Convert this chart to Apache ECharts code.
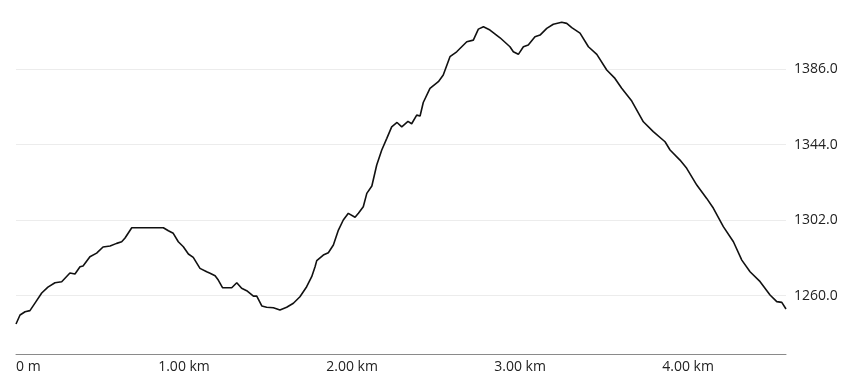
<!DOCTYPE html>
<html>
<head>
<meta charset="utf-8">
<script src="https://cdn.jsdelivr.net/npm/echarts@6/dist/echarts.min.js"></script>
<style>html,body{margin:0;padding:0;background:#fff}#c{width:841px;height:376px}</style>
</head>
<body>
<div id="c"></div>
<script>
// distance along route (km)
const distanceKm = [0,0.024,0.054,0.083,0.113,0.153,0.190,0.232,0.272,0.321,0.351,0.381,0.399,0.440,0.480,0.518,0.560,0.599,0.629,0.649,0.689,0.877,0.907,0.936,0.966,0.996,1.026,1.055,1.095,1.135,1.155,1.185,1.204,1.230,1.284,1.314,1.343,1.373,1.413,1.433,1.463,1.492,1.532,1.571,1.611,1.651,1.690,1.730,1.760,1.780,1.790,1.829,1.859,1.889,1.919,1.948,1.978,2.018,2.038,2.067,2.088,2.118,2.147,2.177,2.207,2.236,2.268,2.296,2.333,2.355,2.385,2.405,2.424,2.464,2.514,2.543,2.583,2.623,2.683,2.722,2.752,2.782,2.821,2.881,2.940,2.960,2.990,3.020,3.049,3.089,3.119,3.159,3.198,3.248,3.278,3.308,3.357,3.407,3.457,3.516,3.565,3.605,3.665,3.734,3.793,3.863,3.893,3.952,3.992,4.052,4.111,4.151,4.210,4.270,4.320,4.369,4.429,4.488,4.528,4.558,4.583];
// elevation (m)
const elevation = [1244.3,1249.3,1251.1,1251.7,1255.9,1261.5,1264.8,1267.2,1267.8,1272.6,1272.1,1276.1,1276.5,1281.7,1283.7,1287.1,1287.6,1289.1,1290.0,1292.1,1297.8,1297.8,1296.1,1294.7,1290.0,1287.2,1283.2,1281.3,1275.2,1273.3,1272.5,1271.1,1268.7,1264.4,1264.4,1267.2,1264.1,1262.8,1259.8,1259.8,1254.3,1253.6,1253.3,1252.1,1253.6,1255.8,1259.4,1265.0,1270.6,1276.1,1279.5,1282.6,1283.9,1288.2,1296.5,1302.1,1305.8,1303.6,1305.8,1309.5,1316.9,1321.0,1332.7,1341.0,1347.5,1353.9,1356.3,1353.9,1356.9,1355.6,1360.4,1359.9,1367.4,1375.3,1379.0,1382.7,1392.9,1395.6,1401.2,1402.1,1408.2,1409.5,1407.7,1403.4,1398.4,1395.6,1394.2,1398.4,1399.4,1404.0,1404.9,1408.6,1410.9,1412.0,1411.4,1409.0,1406.0,1398.4,1394.2,1385.5,1380.8,1375.3,1368.2,1356.7,1351.2,1345.6,1341.0,1335.4,1330.8,1321.5,1314.1,1308.6,1298.4,1290.0,1279.8,1273.3,1267.8,1260.4,1256.7,1256.3,1252.6];
const yTicks = [1260, 1302, 1344, 1386];
const xTicks = [0, 1, 2, 3, 4];

const chart = echarts.init(document.getElementById('c'), null, {renderer: 'canvas'});
chart.setOption({
  animation: false,
  grid: {left: 16, right: 55, top: 0, bottom: 22, containLabel: false},
  xAxis: {
    type: 'value', min: 0, max: 4.583,
    axisLine: {show: true, lineStyle: {color: '#8a8a8a', width: 1}},
    axisTick: {show: false, customValues: xTicks},
    splitLine: {show: false},
    axisLabel: {
      customValues: xTicks,
      margin: 6, fontFamily: 'Open Sans', fontSize: 14, color: '#222',
      alignMinLabel: 'left',
      formatter: v => v === 0 ? '0 m' : v.toFixed(2) + ' km'
    }
  },
  yAxis: {
    type: 'value', position: 'right', min: 1227.6, max: 1424.4,
    axisLine: {show: false},
    axisTick: {show: false, customValues: yTicks},
    splitLine: {show: true, lineStyle: {color: '#ececec', width: 1}},
    axisLabel: {
      customValues: yTicks,
      margin: 8, fontFamily: 'Open Sans', fontSize: 14, color: '#222',
      formatter: v => v.toFixed(1)
    }
  },
  series: [{
    type: 'line',
    data: distanceKm.map((d, i) => [d, elevation[i]]),
    showSymbol: false,
    smooth: false,
    lineStyle: {color: '#111', width: 1.6},
    clip: false
  }]
});
</script>
</body>
</html>
